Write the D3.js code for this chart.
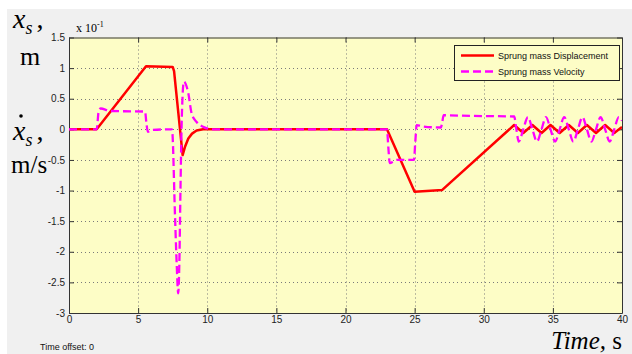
<!DOCTYPE html>
<html>
<head>
<meta charset="utf-8">
<script src="https://cdn.jsdelivr.net/npm/d3@7/dist/d3.min.js"></script>
<style>
  html, body { margin: 0; padding: 0; background: #ffffff; }
  svg { display: block; }
  .tick text { font-family: "Liberation Sans Narrow", "Arial Narrow", "Liberation Sans", sans-serif; font-size: 10px; fill: #222; }
  .serif { font-family: "Liberation Serif", "Times New Roman", serif; fill: #000; }
</style>
</head>
<body>
<svg id="chart" width="632" height="354"></svg>
<script>
// Sprung mass response (displacement and velocity, scaled by 10^-1) over time
const xTicks = [0, 5, 10, 15, 20, 25, 30, 35, 40];
const xTickLabels = ["0", "5", "10", "15", "20", "25", "30", "35", "40"];
const yTicks = [1.5, 1, 0.5, 0, -0.5, -1, -1.5, -2, -2.5, -3];
const yTickLabels = ["1.5", "1", "0.5", "0", "-0.5", "-1", "-1.5", "-2", "-2.5", "-3"];

const seriesNames = ["Sprung mass Displacement", "Sprung mass Velocity"];

// time (s)
const dispTime = [0, 2.0, 5.57, 7.5, 7.6, 8.22, 8.4, 8.63, 8.9, 9.23, 9.7, 23.0, 25.0, 27.0,
  32.2, 32.86, 33.52, 34.18, 34.83, 35.49, 36.15, 36.81, 37.46, 38.12, 38.78, 39.44, 40.0];
// displacement (x 10^-1 m)
const dispValue = [0, 0, 1.03, 1.02, 0.95, -0.42, -0.28, -0.15, -0.07, -0.02, 0, 0, -1.02, -0.99,
  0.07, -0.06, 0.07, -0.06, 0.07, -0.06, 0.07, -0.06, 0.07, -0.06, 0.07, -0.06, 0.04];

// time (s)
const velTime = [0, 2.0, 2.15, 2.3, 2.8, 3.0, 5.5, 5.6, 5.7, 6.0, 7.45, 7.67, 7.79, 7.9, 7.98,
  8.07, 8.16, 8.31, 8.63, 8.87, 9.23, 9.71, 10.4, 23.0, 23.1, 23.2, 23.5, 23.7, 24.95, 25.05,
  25.15, 25.5, 26.9, 27.0, 27.1, 29.0, 32.2, 32.36, 32.53, 32.86, 33.19, 33.52, 33.85, 34.18,
  34.5, 34.83, 35.16, 35.49, 35.82, 36.15, 36.48, 36.81, 37.14, 37.46, 37.79, 38.12, 38.45,
  38.78, 39.11, 39.44, 39.77, 40.0];
// velocity (x 10^-1 m/s)
const velValue = [0, 0, 0.3, 0.34, 0.31, 0.3, 0.29, 0.1, -0.04, -0.01, 0, -1.43, -2.2, -2.68, -2.2,
  -0.88, 0.2, 0.78, 0.59, 0.26, 0.12, 0.04, 0, 0, -0.3, -0.55, -0.52, -0.5, -0.5, -0.2,
  0.07, 0.05, 0.03, 0.12, 0.23, 0.22, 0.21, 0, -0.2, 0, 0.2, 0, -0.2, 0,
  0.2, 0, -0.2, 0, 0.2, 0, -0.2, 0, 0.2, 0, -0.2, 0, 0.2,
  0, -0.2, 0, 0.2, 0.14];

const svg = d3.select("#chart");
const W = 632, H = 354;
const plot = { left: 69, right: 622, top: 37.5, bottom: 313 };

// window background
svg.append("rect").attr("x", 7).attr("y", 9).attr("width", W - 7).attr("height", H - 9)
  .attr("fill", "#f0f0f0");

const x = d3.scaleLinear().domain([0, 40]).range([plot.left, plot.right]);
const y = d3.scaleLinear().domain([-3, 1.5]).range([plot.bottom, plot.top]);

// plot area
svg.append("rect")
  .attr("x", plot.left).attr("y", plot.top)
  .attr("width", plot.right - plot.left).attr("height", plot.bottom - plot.top)
  .attr("fill", "#fdfdc6");

// dotted grid
const grid = svg.append("g").attr("stroke", "#7a7a7a").attr("stroke-width", 1)
  .attr("stroke-dasharray", "1,3");
grid.selectAll("line.gx").data(xTicks.slice(1, -1)).join("line")
  .attr("x1", d => Math.round(x(d)) + 0.5).attr("x2", d => Math.round(x(d)) + 0.5)
  .attr("y1", plot.top).attr("y2", plot.bottom);
grid.selectAll("line.gy").data(yTicks.slice(1, -1)).join("line")
  .attr("x1", plot.left).attr("x2", plot.right)
  .attr("y1", d => Math.round(y(d)) + 0.5).attr("y2", d => Math.round(y(d)) + 0.5);

// axes with inward ticks on all four sides
function styleAxis(g) {
  g.select(".domain").attr("stroke", "#333");
  g.selectAll(".tick line").attr("stroke", "#333");
}
svg.append("g").attr("transform", `translate(0,${plot.bottom})`)
  .call(d3.axisBottom(x).tickValues(xTicks).tickSize(-5).tickSizeOuter(0).tickPadding(3)
    .tickFormat((d, i) => xTickLabels[i]))
  .call(styleAxis);
svg.append("g").attr("transform", `translate(0,${plot.top})`)
  .call(d3.axisTop(x).tickValues(xTicks).tickSize(-5).tickSizeOuter(0).tickFormat(""))
  .call(styleAxis);
svg.append("g").attr("transform", `translate(${plot.left},0)`)
  .call(d3.axisLeft(y).tickValues(yTicks).tickSize(-5).tickSizeOuter(0).tickPadding(4)
    .tickFormat((d, i) => yTickLabels[i]))
  .call(styleAxis);
svg.append("g").attr("transform", `translate(${plot.right},0)`)
  .call(d3.axisRight(y).tickValues(yTicks).tickSize(-5).tickSizeOuter(0).tickFormat(""))
  .call(styleAxis);

// data lines
svg.append("clipPath").attr("id", "plotclip").append("rect")
  .attr("x", plot.left).attr("y", plot.top)
  .attr("width", plot.right - plot.left).attr("height", plot.bottom - plot.top);

const dispData = dispTime.map((t, i) => [t, dispValue[i]]);
const velData = velTime.map((t, i) => [t, velValue[i]]);

const lineLinear = d3.line().x(d => x(d[0])).y(d => y(d[1]));
const lineSmooth = d3.line().x(d => x(d[0])).y(d => y(d[1])).curve(d3.curveMonotoneX);

const lines = svg.append("g").attr("clip-path", "url(#plotclip)");
lines.append("path").datum(dispData).attr("d", lineLinear)
  .attr("fill", "none").attr("stroke", "#ff0000").attr("stroke-width", 2.5)
  .attr("stroke-linejoin", "round");
lines.append("path").datum(velData).attr("d", lineSmooth)
  .attr("fill", "none").attr("stroke", "#ff00ff").attr("stroke-width", 2.3)
  .attr("stroke-dasharray", "8,4");

// legend
const lg = svg.append("g");
lg.append("rect").attr("x", 454.5).attr("y", 45.5).attr("width", 165).attr("height", 35)
  .attr("fill", "#fdfdc6").attr("stroke", "#222").attr("stroke-width", 1);
const legendStyles = [
  { color: "#ff0000", dash: null, width: 2.5 },
  { color: "#ff00ff", dash: "8,4", width: 2.3 }
];
seriesNames.forEach((name, i) => {
  const yy = 55.5 + i * 16;
  lg.append("line").attr("x1", 461).attr("x2", 494).attr("y1", yy).attr("y2", yy)
    .attr("stroke", legendStyles[i].color).attr("stroke-width", legendStyles[i].width)
    .attr("stroke-dasharray", legendStyles[i].dash);
  lg.append("text").attr("x", 498).attr("y", yy + 3.5)
    .attr("font-family", "'Liberation Sans', Arial, sans-serif").attr("font-size", 9)
    .attr("fill", "#111").text(name);
});

// axis annotations
const ann = svg.append("g").attr("class", "serif");
function xsLabel(baseY) {
  const t = ann.append("text").attr("class", "serif").attr("x", 13).attr("y", baseY)
    .attr("font-size", 28);
  t.append("tspan").attr("font-style", "italic").text("x");
  t.append("tspan").attr("font-style", "italic").attr("font-size", 18).attr("dy", 6).text("s");
  t.append("tspan").attr("dy", -6).attr("dx", 4).text(",");
}
xsLabel(28);
ann.append("text").attr("class", "serif").attr("x", 20).attr("y", 65).attr("font-size", 26).text("m");
xsLabel(140);
// dot over the velocity symbol
ann.append("circle").attr("cx", 21).attr("cy", 116).attr("r", 1.8).attr("fill", "#000");
ann.append("text").attr("class", "serif").attr("x", 11).attr("y", 173).attr("font-size", 25).text("m/s");

const sc = ann.append("text").attr("class", "serif").attr("x", 76).attr("y", 32).attr("font-size", 12);
sc.append("tspan").text("x 10");
sc.append("tspan").attr("font-size", 8).attr("dy", -5).text("-1");

const tl = ann.append("text").attr("class", "serif").attr("x", 622).attr("y", 349)
  .attr("text-anchor", "end").attr("font-size", 25);
tl.append("tspan").attr("font-style", "italic").text("Time,");
tl.append("tspan").text(" s");

svg.append("text").attr("x", 40).attr("y", 350)
  .attr("font-family", "'Liberation Sans Narrow', 'Arial Narrow', 'Liberation Sans', sans-serif")
  .attr("font-size", 9).attr("fill", "#111").text("Time offset:  0");
</script>
</body>
</html>
